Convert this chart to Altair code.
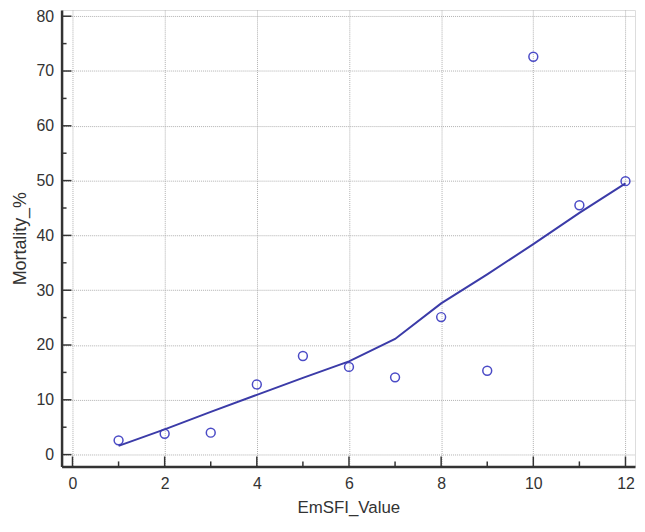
import altair as alt
import pandas as pd

# Data
emsfi_value = [1, 2, 3, 4, 5, 6, 7, 8, 9, 10, 11, 12]
mortality_pct = [2.6, 3.8, 4.0, 12.8, 18.0, 16.0, 14.1, 25.1, 15.3, 72.6, 45.5, 49.9]
fit_line = [1.6, 4.6, 7.8, 10.9, 14.0, 17.0, 21.1, 27.6, 32.9, 38.4, 44.1, 49.5]

x_major = [0, 2, 4, 6, 8, 10, 12]
x_minor = [1, 3, 5, 7, 9, 11]
y_major = [0, 10, 20, 30, 40, 50, 60, 70, 80]
y_minor = [5, 15, 25, 35, 45, 55, 65, 75]

W = 578
H = 460
FONT = "Liberation Sans"
AXIS_COLOR = "#333333"
POINT_COLOR = "#4b4bc6"
LINE_COLOR = "#3b3ba8"

df = pd.DataFrame({"EmSFI_Value": emsfi_value, "Mortality_%": mortality_pct, "fit": fit_line})
xmaj = pd.DataFrame({"v": x_major})
xmin = pd.DataFrame({"v": x_minor})
ymaj = pd.DataFrame({"v": y_major})
ymin = pd.DataFrame({"v": y_minor})

xscale = alt.Scale(domain=[-0.237, 12.207], nice=False, zero=False)
yscale = alt.Scale(domain=[-2.15, 81.13], nice=False, zero=False)

xaxis = alt.Axis(values=x_major, title="EmSFI_Value", grid=True, gridColor="#b0b0b0",
                 gridDash=[1, 1], gridWidth=1, ticks=False, tickSize=0,
                 domainColor=AXIS_COLOR, domainWidth=2.5, labelPadding=9,
                 labelFontSize=16, labelColor=AXIS_COLOR, labelFont=FONT,
                 titleFont=FONT, titleFontSize=17, titleFontWeight="normal",
                 titleColor=AXIS_COLOR, titlePadding=8, labelFlush=False)
yaxis = alt.Axis(values=y_major, title="Mortality_%", grid=True, gridColor="#b0b0b0",
                 gridDash=[1, 1], gridWidth=1, ticks=False, tickSize=0,
                 domainColor=AXIS_COLOR, domainWidth=2.5, labelPadding=8,
                 labelFontSize=16, labelColor=AXIS_COLOR, labelFont=FONT,
                 titleFont=FONT, titleFontSize=18, titleFontWeight="normal",
                 titleColor=AXIS_COLOR, titlePadding=7, labelFlush=False)

points = alt.Chart(df).mark_point(shape="circle", filled=False, size=80,
                                  color=POINT_COLOR, strokeWidth=1.5, opacity=1).encode(
    x=alt.X("EmSFI_Value:Q", scale=xscale, axis=xaxis),
    y=alt.Y("Mortality_%:Q", scale=yscale, axis=yaxis),
)

line = alt.Chart(df).mark_line(color=LINE_COLOR, strokeWidth=2).encode(
    x=alt.X("EmSFI_Value:Q", scale=xscale),
    y=alt.Y("fit:Q", scale=yscale),
)

xt_major = alt.Chart(xmaj).mark_rule(color=AXIS_COLOR, strokeWidth=1.5).encode(
    x=alt.X("v:Q", scale=xscale), y=alt.value(H), y2=alt.value(H - 10))
xt_minor = alt.Chart(xmin).mark_rule(color=AXIS_COLOR, strokeWidth=1.5).encode(
    x=alt.X("v:Q", scale=xscale), y=alt.value(H), y2=alt.value(H - 5))
yt_major = alt.Chart(ymaj).mark_rule(color=AXIS_COLOR, strokeWidth=1.5).encode(
    y=alt.Y("v:Q", scale=yscale), x=alt.value(0), x2=alt.value(10))
yt_minor = alt.Chart(ymin).mark_rule(color=AXIS_COLOR, strokeWidth=1.5).encode(
    y=alt.Y("v:Q", scale=yscale), x=alt.value(0), x2=alt.value(5))

chart = alt.layer(points, line, xt_major, xt_minor, yt_major, yt_minor).properties(
    width=W, height=H,
    autosize=alt.AutoSizeParams(type="none"),
    padding={"left": 54, "top": 0, "right": 2, "bottom": 52},
).configure_view(stroke=None).configure(background="white")

chart.save("out.html", embed_options={"renderer": "svg", "actions": False})
